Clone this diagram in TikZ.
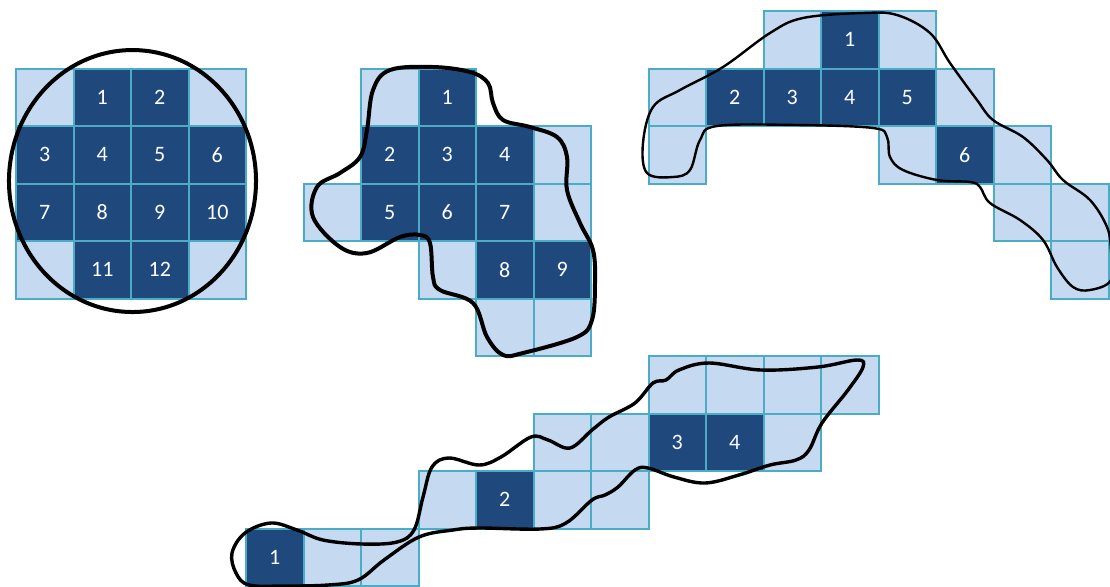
\documentclass[tikz,border=0pt]{standalone}
\usepackage{fontspec}
\setmainfont{Carlito}
\definecolor{cellfill}{HTML}{C5D9F1}
\definecolor{cellhit}{HTML}{1F497D}
\definecolor{celledge}{HTML}{4BACC6}
\tikzset{
    cell/.style={draw=celledge, line width=1pt, minimum size=28.75pt, inner sep=0pt, outer sep=0pt, anchor=north west},
    lite/.style={cell, fill=cellfill}, % empty cell
    hit/.style={cell, fill=cellhit, text=white, font=\fontsize{11}{13}\selectfont}, % numbered cell
    blob/.style={draw=black, line width=#1, line join=round}
}

\begin{document}
\begin{tikzpicture}[x=28.75pt, y=-28.75pt]
    \useasboundingbox (-0.2783,-0.1913) rectangle (19.026,10);

    % empty cells
    \foreach \k/\j in {0/1, 3/1, 0/4, 3/4,
                       6/1, 9/2, 5/3, 9/3, 7/4, 8/5, 9/5,
                       13/0, 15/0, 11/1, 16/1, 11/2, 15/2, 17/2, 17/3, 18/3, 18/4,
                       11/6, 12/6, 13/6, 14/6, 9/7, 10/7, 13/7, 7/8, 9/8, 10/8, 5/9, 6/9}
        \node[lite] (c-\k-\j) at (\k,\j) {};

    % numbered cells
    \foreach \k/\j/\n in {1/1/1, 2/1/2, 0/2/3, 1/2/4, 2/2/5, 3/2/6, 0/3/7, 1/3/8, 2/3/9, 3/3/10, 1/4/11, 2/4/12,
                          7/1/1, 6/2/2, 7/2/3, 8/2/4, 6/3/5, 7/3/6, 8/3/7, 8/4/8, 9/4/9,
                          14/0/1, 12/1/2, 13/1/3, 14/1/4, 15/1/5, 16/2/6,
                          4/9/1, 8/8/2, 11/7/3, 12/7/4}
        \node[hit] (c-\k-\j) at (\k,\j) {\n};

    % outlines
    \draw[blob=2pt] (2.026,2.957) ellipse [x radius=61.76pt, y radius=65.49pt];

    \begin{scope}[x=0.5pt, y=-0.5pt, shift={(-16,-11)}]
        \draw[blob=2pt] plot[smooth cycle, tension=0.6] coordinates {
            (390,70) (433,67) (470,72) (488,83) (493,103) (503,120) (530,127) (557,137)
            (567,157) (567,190) (580,223) (593,250) (595,283) (592,320) (577,337) (523,353)
            (503,355) (487,337) (473,303) (440,290) (433,277) (430,243) (420,235) (400,237)
            (367,253) (340,247) (313,217) (317,187) (340,173) (360,157) (367,130) (373,90)};
        \draw[blob=1.2pt] plot[smooth cycle, tension=0.6] coordinates {
            (643,143) (653,107) (680,90) (723,67) (770,33) (803,18) (863,13) (897,15)
            (930,33) (950,63) (977,100) (993,120) (1023,137) (1047,160) (1063,180) (1090,200)
            (1107,227) (1111,250) (1111,280) (1090,290) (1073,287) (1057,267) (1043,240) (1020,220)
            (990,203) (980,187) (970,182) (937,180) (903,170) (890,157) (887,137) (873,128)
            (797,125) (717,126) (700,140) (690,170) (673,177) (647,173)};
        \draw[blob=1.7pt] plot[smooth cycle, tension=0.6] coordinates {
            (232,553) (245,533) (271,523) (297,530) (323,540) (362,544) (397,542) (414,530)
            (423,497) (432,467) (449,458) (479,465) (501,457) (531,437) (548,440) (570,448)
            (592,430) (609,417) (635,403) (653,383) (666,380) (679,370) (709,363) (761,370)
            (818,367) (857,360) (863,367) (848,390) (822,423) (809,450) (796,460) (770,465)
            (739,475) (705,483) (674,477) (648,468) (635,470) (618,487) (605,495) (592,500)
            (566,523) (540,529) (479,528) (453,530) (419,537) (384,560) (358,580) (328,585)
            (284,586) (249,585) (236,573)};
    \end{scope}
\end{tikzpicture}
\end{document}
